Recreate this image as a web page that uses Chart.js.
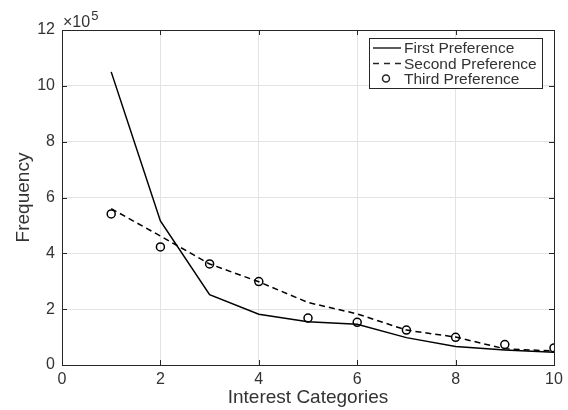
<!DOCTYPE html>
<html lang="en">
  <head>
    <meta charset="UTF-8" />
    <title>Interest Categories</title>
    <script src="https://cdn.jsdelivr.net/npm/chart.js@4.4.1/dist/chart.umd.min.js"></script>
    <style>
      html, body { margin: 0; padding: 0; background: #fff; }
      .chart-container { position: relative; width: 568px; height: 410px; }
    </style>
  </head>
  <body>
    <div class="chart-container">
      <canvas id="chart"></canvas>
    </div>
    <script>
      let categories = [1, 2, 3, 4, 5, 6, 7, 8, 9, 10];
      let firstPref = [1050000, 516000, 252000, 182000, 155000, 146000, 98000, 66000, 54000, 46000];
      let secondPref = [560000, 462000, 362000, 298000, 224000, 183000, 125000, 100000, 58000, 50000];
      let thirdPref = [541000, 423000, 362000, 299000, 168000, 153000, 125000, 99000, 73000, 61000];
      let seriesNames = ['First Preference', 'Second Preference', 'Third Preference'];
      let xTicks = [0, 2, 4, 6, 8, 10];
      let yTicks = [0, 2, 4, 6, 8, 10, 12];

      let toPoints = vals => categories.map((c, i) => ({ x: c, y: vals[i] }));
      let font = '"Liberation Sans", Arial, Helvetica, sans-serif';
      let ink = '#262626';
      let textInk = '#333333';

      // box, inward ticks, x10^5 label and legend, like matlab draws them
      let matlabDecor = {
        id: 'matlabDecor',
        afterDraw(chart) {
          let ctx = chart.ctx;
          let a = chart.chartArea;
          let xs = chart.scales.x, ys = chart.scales.y;
          ctx.save();
          ctx.strokeStyle = ink;
          ctx.lineWidth = 1;
          ctx.strokeRect(a.left + 0.5, a.top + 0.5, a.right - a.left, a.bottom - a.top);
          ctx.beginPath();
          xTicks.forEach(t => {
            let px = Math.round(xs.getPixelForValue(t)) + 0.5;
            ctx.moveTo(px, a.bottom); ctx.lineTo(px, a.bottom - 5);
            ctx.moveTo(px, a.top); ctx.lineTo(px, a.top + 5);
          });
          yTicks.forEach(t => {
            let py = Math.round(ys.getPixelForValue(t * 1e5)) + 0.5;
            ctx.moveTo(a.left, py); ctx.lineTo(a.left + 5, py);
            ctx.moveTo(a.right, py); ctx.lineTo(a.right - 5, py);
          });
          ctx.stroke();

          // exponent label
          ctx.fillStyle = textInk;
          ctx.textBaseline = 'alphabetic';
          ctx.textAlign = 'left';
          ctx.font = '16px ' + font;
          ctx.fillText('\u00d710', a.left + 1, a.top - 3);
          let w = ctx.measureText('\u00d710').width;
          ctx.font = '13px ' + font;
          ctx.fillText('5', a.left + 2 + w, a.top - 10);

          // legend
          let lx = 369, ly = 38, lw = 173, lh = 50;
          ctx.fillStyle = '#fff';
          ctx.fillRect(lx, ly, lw, lh);
          ctx.strokeStyle = ink;
          ctx.lineWidth = 1;
          ctx.strokeRect(lx + 0.5, ly + 0.5, lw, lh);
          ctx.font = '15.5px ' + font;
          ctx.textBaseline = 'middle';
          let rows = [ly + 10, ly + 25.5, ly + 40.5];
          rows.forEach((ry, i) => {
            ctx.strokeStyle = ink;
            ctx.lineWidth = 1.5;
            ctx.beginPath();
            if (i === 0) {
              ctx.setLineDash([]);
              ctx.moveTo(lx + 4, ry); ctx.lineTo(lx + 32, ry);
              ctx.stroke();
            } else if (i === 1) {
              ctx.setLineDash([6, 5]);
              ctx.moveTo(lx + 4, ry); ctx.lineTo(lx + 32, ry);
              ctx.stroke();
              ctx.setLineDash([]);
            } else {
              ctx.arc(lx + 17, ry, 3.5, 0, Math.PI * 2);
              ctx.stroke();
            }
            ctx.fillStyle = textInk;
            ctx.fillText(seriesNames[i], lx + 35, ry + 1);
          });
          ctx.restore();
        }
      };

      new Chart(document.getElementById('chart'), {
        type: 'line',
        data: {
          datasets: [
            {
              label: seriesNames[0],
              data: toPoints(firstPref),
              borderColor: '#000',
              borderWidth: 1.5,
              pointRadius: 0,
              fill: false
            },
            {
              label: seriesNames[1],
              data: toPoints(secondPref),
              borderColor: '#000',
              borderWidth: 1.5,
              borderDash: [6, 4],
              pointRadius: 0,
              fill: false
            },
            {
              label: seriesNames[2],
              data: toPoints(thirdPref),
              showLine: false,
              borderColor: '#000',
              backgroundColor: 'rgba(0,0,0,0)',
              pointStyle: 'circle',
              pointRadius: 4,
              pointBorderWidth: 1.5
            }
          ]
        },
        options: {
          responsive: true,
          maintainAspectRatio: false,
          animation: false,
          layout: { padding: { top: 30, right: 14, left: 0, bottom: 0 } },
          plugins: {
            legend: { display: false },
            tooltip: { enabled: false }
          },
          scales: {
            x: {
              type: 'linear',
              min: 0,
              max: 10,
              afterBuildTicks: s => { s.ticks = xTicks.map(v => ({ value: v })); },
              afterFit: s => { s.height = 45; },
              grid: { color: '#e3e3e3', drawTicks: false },
              border: { display: false },
              ticks: { color: textInk, padding: 5, font: { family: font, size: 16 } },
              title: {
                display: true,
                text: 'Interest Categories',
                color: textInk,
                padding: { top: 0, bottom: 1 },
                font: { family: font, size: 19 }
              }
            },
            y: {
              min: 0,
              max: 1200000,
              afterBuildTicks: s => { s.ticks = yTicks.map(v => ({ value: v * 1e5 })); },
              afterFit: s => { s.width = 62; },
              grid: { color: '#e3e3e3', drawTicks: false },
              border: { display: false },
              ticks: {
                color: textInk,
                padding: 7,
                font: { family: font, size: 16 },
                callback: v => String(v / 1e5)
              },
              title: {
                display: true,
                text: 'Frequency',
                color: textInk,
                padding: { top: 12, bottom: 0 },
                font: { family: font, size: 19 }
              }
            }
          }
        },
        plugins: [matlabDecor]
      });
    </script>
  </body>
</html>
